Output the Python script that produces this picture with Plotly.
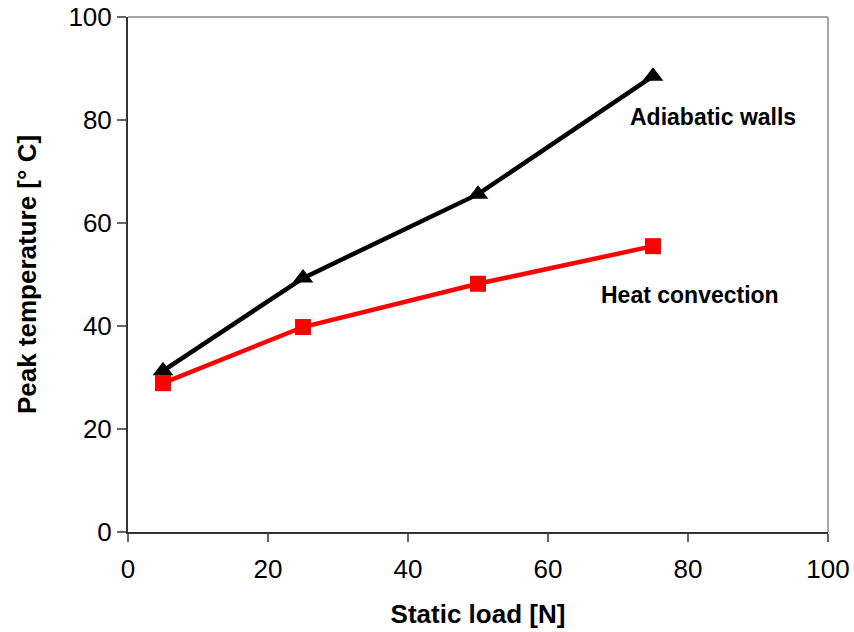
import plotly.graph_objects as go

loads = [5, 25, 50, 75]
adiabatic = [31.3, 49.3, 65.6, 88.5]
convection = [28.9, 39.8, 48.2, 55.5]
x_ticks = [0, 20, 40, 60, 80, 100]
y_ticks = [0, 20, 40, 60, 80, 100]

FAM = "Liberation Sans, Arial, sans-serif"

fig = go.Figure()
fig.add_trace(go.Scatter(x=loads, y=convection, mode="lines+markers",
                         line=dict(color="#ff0000", width=4.5),
                         marker=dict(symbol="square", size=16, color="#ff0000"),
                         name="Heat convection", showlegend=False))
fig.add_trace(go.Scatter(x=loads, y=adiabatic, mode="lines+markers",
                         line=dict(color="#000000", width=4.5),
                         marker=dict(symbol="triangle-up", size=18, color="#000000"),
                         name="Adiabatic walls", showlegend=False))

fig.add_annotation(x=83.6, y=80.6, text="<b>Adiabatic walls</b>", showarrow=False,
                   font=dict(family=FAM, size=23, color="black"))
fig.add_annotation(x=80.3, y=46.0, text="<b>Heat convection</b>", showarrow=False,
                   font=dict(family=FAM, size=23, color="black"))

fig.add_shape(type="line", xref="paper", yref="paper", x0=0, x1=1, y0=1, y1=1,
              line=dict(color="#888888", width=1.5))
fig.add_shape(type="line", xref="paper", yref="paper", x0=1, x1=1, y0=0, y1=1,
              line=dict(color="#888888", width=1.5))

fig.update_layout(
    width=854, height=632,
    margin=dict(l=128, r=26, t=17, b=100, autoexpand=False),
    plot_bgcolor="white", paper_bgcolor="white",
    font=dict(family=FAM, size=26, color="black"),
    xaxis=dict(range=[0, 100], tickvals=x_ticks, showgrid=False, zeroline=False,
               showline=True, linecolor="#333333", linewidth=2,
               ticks="outside", ticklen=8, tickcolor="#666666", tickwidth=1.5,
               ticklabelstandoff=5,
               tickfont=dict(size=26),
               title=dict(text="<b>Static load [N]</b>", font=dict(size=26), standoff=22)),
    yaxis=dict(range=[0, 100], tickvals=y_ticks, showgrid=False, zeroline=False,
               showline=True, linecolor="#333333", linewidth=2,
               ticks="outside", ticklen=9, tickcolor="#666666", tickwidth=1.5,
               tickfont=dict(size=26),
               title=dict(text="<b>Peak temperature [° C]</b>", font=dict(size=26), standoff=24)),
)

fig.write_html("out.html")
